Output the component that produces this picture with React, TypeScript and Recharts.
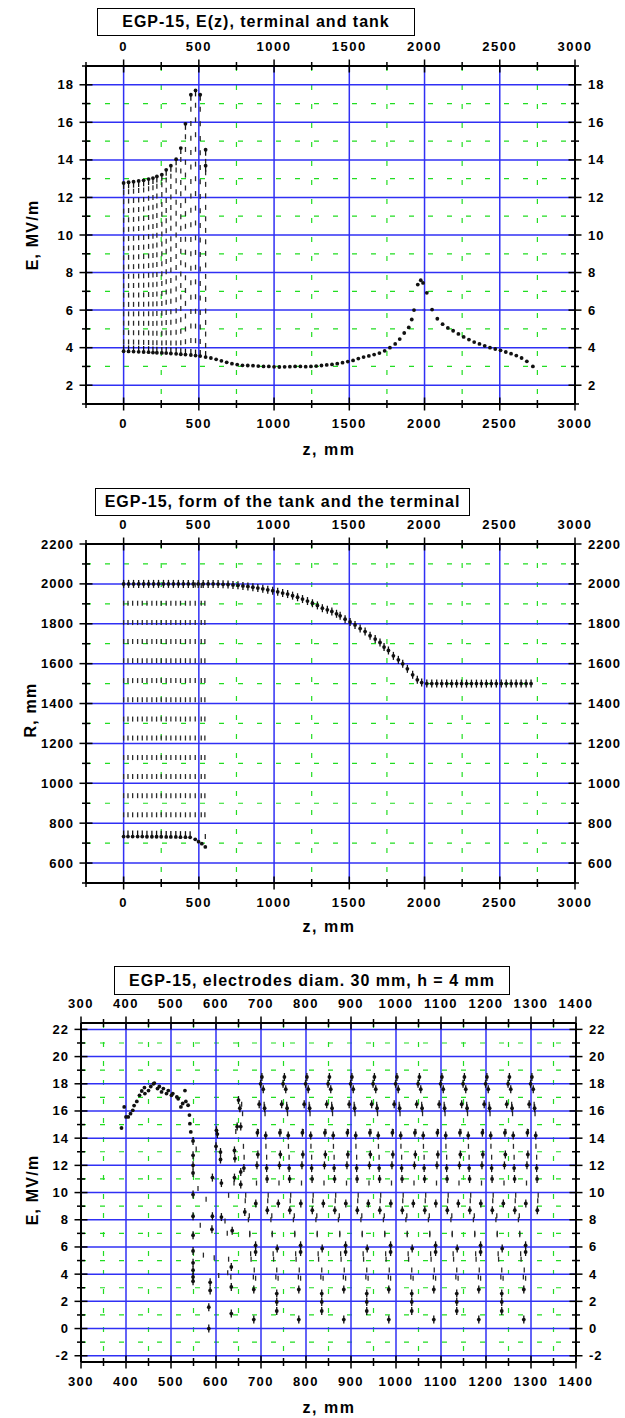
import React from 'react'
import { ScatterChart, Scatter, XAxis, YAxis, CartesianGrid } from 'recharts'

const FONT = '"Liberation Sans", Arial, Helvetica, sans-serif'
const BLUE = '#3030f4'
const GREEN = '#22dd22'
const INK = '#111'

type P = { z: number; e: number }
const pts = (zs: number[], es: number[]): P[] => zs.map((z, i) => ({ z, e: es[i] }))

// ---------- panel 1: E(z), terminal and tank ----------
const termZ1 = [0, 33, 66, 100, 133, 166, 195, 221, 254, 283, 314, 349, 380, 411, 447, 478, 509, 545]
const termTopE1 = [12.77, 12.81, 12.84, 12.88, 12.91, 12.98, 13.03, 13.12, 13.21, 13.47, 13.69, 14.04, 14.63, 15.92, 17.47, 17.7, 17.47, 14.54]
const termBotE1 = [3.81, 3.8, 3.79, 3.78, 3.77, 3.76, 3.74, 3.73, 3.72, 3.71, 3.69, 3.67, 3.65, 3.63, 3.61, 3.58, 3.55, 3.5]
const lineFrac1 = [0.056, 0.111, 0.167, 0.222, 0.278, 0.333, 0.389, 0.444, 0.5, 0.556, 0.611, 0.667, 0.722, 0.778, 0.833, 0.889, 0.944]
const tankZ1 = [580, 615, 650, 685, 720, 755, 790, 825, 860, 895, 930, 965, 1000, 1035, 1070, 1105, 1140, 1175, 1210, 1245, 1280, 1315, 1350, 1385, 1420, 1455, 1490, 1525, 1560, 1595, 1630, 1665, 1700, 1735, 1770, 1805, 1835, 1865, 1895, 1915, 1930, 1955, 1975, 1990, 2015, 2050, 2085, 2120, 2155, 2190, 2225, 2260, 2295, 2330, 2365, 2400, 2435, 2470, 2505, 2540, 2575, 2610, 2645, 2680, 2720]
const tankE1 = [3.45, 3.38, 3.3, 3.22, 3.15, 3.1, 3.06, 3.05, 3.04, 3.02, 3.0, 3.0, 2.98, 2.97, 2.98, 2.99, 3.0, 3.0, 2.99, 3.0, 3.02, 3.05, 3.08, 3.11, 3.15, 3.2, 3.26, 3.32, 3.42, 3.5, 3.56, 3.63, 3.71, 3.83, 4.0, 4.2, 4.46, 4.78, 5.08, 5.5, 6.0, 7.36, 7.59, 7.45, 6.92, 6.03, 5.54, 5.25, 5.05, 4.9, 4.73, 4.57, 4.43, 4.3, 4.2, 4.1, 4.0, 3.93, 3.86, 3.77, 3.68, 3.58, 3.45, 3.27, 3.0]
const xTicks12 = [-250, 0, 250, 500, 750, 1000, 1250, 1500, 1750, 2000, 2250, 2500, 2750, 3000]
const yTicks1 = [1, 2, 3, 4, 5, 6, 7, 8, 9, 10, 11, 12, 13, 14, 15, 16, 17, 18, 19]

// ---------- panel 2: form of the tank and the terminal ----------
const rimZ2 = [0, 33, 66, 100, 133, 166, 199, 232, 265, 298, 331, 364, 397, 430, 463, 496, 529, 562, 595, 628, 661, 694, 727, 760, 793, 826, 859, 892, 925, 958, 991, 1024, 1057, 1090, 1123, 1156, 1189, 1222, 1255, 1288, 1321, 1354, 1384, 1415, 1439, 1472, 1505, 1538, 1572, 1605, 1638, 1672, 1704, 1731, 1760, 1793, 1826, 1855, 1886, 1921, 1952, 1981, 2015, 2048, 2081, 2114, 2147, 2180, 2213, 2246, 2279, 2312, 2345, 2378, 2411, 2444, 2477, 2510, 2543, 2576, 2609, 2642, 2675, 2708]
const rimR2 = [2000, 2000, 2000, 2000, 2000, 2000, 2000, 2000, 2000, 2000, 2000, 2000, 2000, 2000, 2000, 2000, 2000, 2000, 2000, 1999, 1998, 1997, 1995, 1993, 1990, 1987, 1983, 1979, 1975, 1970, 1966, 1960, 1954, 1949, 1941, 1933, 1924, 1914, 1903, 1892, 1878, 1870, 1862, 1850, 1840, 1823, 1809, 1794, 1776, 1761, 1740, 1723, 1706, 1683, 1666, 1639, 1619, 1599, 1574, 1544, 1519, 1505, 1500, 1500, 1500, 1500, 1500, 1500, 1500, 1500, 1500, 1500, 1500, 1500, 1500, 1500, 1500, 1500, 1500, 1500, 1500, 1500, 1500, 1500]
const colZ2 = [0, 29, 60, 93, 124, 155, 188, 219, 250, 283, 314, 347, 378, 411, 442]
const edgeZ2 = [476, 516, 540]
const rowR2 = [1903, 1806, 1711, 1615, 1515, 1419, 1322, 1227, 1129, 1034, 938, 842]
const baseR2 = [733, 733, 733, 733, 733, 732, 732, 732, 732, 731, 731, 731, 730, 730, 729]
const noseZ2 = [476, 498, 520, 543]
const noseR2 = [719, 707, 697, 681]
const yTicks2 = [500, 600, 700, 800, 900, 1000, 1100, 1200, 1300, 1400, 1500, 1600, 1700, 1800, 1900, 2000, 2100, 2200]

// ---------- panel 3: electrodes diam. 30 mm, h = 4 mm ----------
const arcZ3 = [390, 396, 400, 405, 410, 415, 418, 424, 430, 435, 441, 442, 450, 455, 461, 463, 470, 474, 479, 483, 490, 494, 501, 504, 513, 516, 522, 526, 531, 533, 538, 541, 542, 544]
const arcE3 = [14.75, 16.3, 15.56, 15.56, 15.8, 16.05, 16.4, 16.7, 17.15, 17.47, 17.72, 17.28, 17.5, 17.8, 18.0, 18.05, 17.65, 17.8, 17.4, 17.65, 17.28, 17.5, 17.15, 17.28, 17.03, 16.9, 16.3, 16.55, 17.5, 16.7, 16.42, 15.7, 15.07, 14.46]
const earlyZ3 = [549, 549, 549, 549, 549, 549, 549, 549, 549, 549, 549, 549, 592, 592, 591, 587, 587, 584, 584, 601, 603, 600, 610, 610, 612, 612, 636, 634, 634, 634, 641, 641, 642, 650, 653, 647, 655, 655, 655, 662, 664]
const earlyE3 = [13.8, 12.74, 12.0, 11.44, 9.85, 8.26, 6.86, 5.71, 4.83, 4.29, 3.8, 3.48, 11.1, 8.26, 7.3, 3.4, 2.8, 1.57, 0.0, 14.58, 14.3, 13.4, 12.98, 12.43, 10.7, 8.2, 7.2, 4.53, 3.06, 1.1, 13.1, 11.1, 12.5, 16.8, 16.2, 14.85, 14.85, 11.52, 10.6, 11.8, 8.58]
const earlyDashZ3 = [556, 560, 565, 572, 578, 596, 606, 620, 626, 628]
const earlyDashE3 = [13.2, 10.3, 7.6, 5.4, 9.5, 5.2, 3.9, 7.9, 4.1, 9.8]
const upperCenters3 = [700, 750, 800, 850, 900, 950, 1000, 1050, 1100, 1150, 1200, 1250, 1300]
const upperDz3 = [-11.5, -9, -8, -7, -4, -1, 2, 5, 8, 10.5, 12.5, 13.5, 14]
const upperE3 = [9.2, 12.0, 14.4, 12.8, 16.5, 18.0, 18.5, 17.6, 16.2, 14.2, 11.8, 11.0, 8.7]
const lowACenters3 = [650, 750, 850, 950, 1050, 1150, 1250]
const lowADz3 = [34, 34, 38, 38]
const lowAE3 = [0.66, 2.87, 6.12, 5.63]
const lowBCenters3 = [700, 800, 900, 1000, 1100, 1200]
const lowBDz3 = [35, 35, 35, 36]
const lowBE3 = [1.29, 1.96, 2.57, 5.88]
const dashCenters3 = [650, 700, 750, 800, 850, 900, 950, 1000, 1050, 1100, 1150, 1200, 1250, 1300]
const dashDz3 = [7, 9, -6, 11, 12.5, -10, 15, 16, 22, 24, -25, 25, 27, -22, 35, -17, 38]
const dashE3 = [16.5, 15.8, 14.5, 13.4, 12.6, 10.7, 9.4, 9.8, 8.0, 8.3, 7.0, 6.9, 5.5, 5.1, 4.3, 3.8, 3.7]
const xTicks3 = [300, 350, 400, 450, 500, 550, 600, 650, 700, 750, 800, 850, 900, 950, 1000, 1050, 1100, 1150, 1200, 1250, 1300, 1350, 1400]
const yTicks3 = [-2, -1, 0, 1, 2, 3, 4, 5, 6, 7, 8, 9, 10, 11, 12, 13, 14, 15, 16, 17, 18, 19, 20, 21, 22]

const around = (centers: number[], dz: number[], es: number[]): P[] =>
  centers.flatMap(c => dz.map((d, i) => ({ z: c + d, e: es[i] })))

const panel1 = [
  { kind: 'dash', data: lineFrac1.flatMap(f => termZ1.map((z, i) => ({ z, e: termBotE1[i] + f * (termTopE1[i] - termBotE1[i]) }))) },
  { kind: 'pinDown', data: [...pts(termZ1, termTopE1), { z: 545, e: 13.69 }] },
  { kind: 'pinUp', data: pts(termZ1, termBotE1) },
  { kind: 'dot', data: pts(tankZ1, tankE1) },
]

const panel2 = [
  { kind: 'dash', data: rowR2.flatMap(r => [...colZ2, ...edgeZ2].map(z => ({ z, e: r }))) },
  { kind: 'dash', data: [{ z: 543, e: 733 }, { z: 476, e: 1995 }, { z: 516, e: 1992 }] },
  { kind: 'cross', data: pts(rimZ2, rimR2) },
  { kind: 'pinUp', data: pts(colZ2, baseR2) },
  { kind: 'dot', data: pts(noseZ2, noseR2) },
]

const inPlate = (p: P) => p.z > 555 && p.z < 1318
const panel3 = [
  { kind: 'dash', data: [...pts(earlyDashZ3, earlyDashE3), ...around(dashCenters3, dashDz3, dashE3).filter(inPlate)] },
  { kind: 'dot', data: pts(arcZ3, arcE3) },
  { kind: 'cross', data: pts(earlyZ3, earlyE3) },
  { kind: 'cross', data: around(upperCenters3, upperDz3, upperE3).filter(inPlate) },
  { kind: 'cross', data: [...around(lowACenters3, lowADz3, lowAE3), ...around(lowBCenters3, lowBDz3, lowBE3)].filter(inPlate) },
]

function mark(kind: string) {
  return (p: any) => {
    const { cx, cy } = p
    if (typeof cx !== 'number' || typeof cy !== 'number') return <g />
    if (kind === 'dash') return <line x1={cx} x2={cx} y1={cy - 2.5} y2={cy + 2.5} stroke="#2a2a2a" strokeWidth={1.3} />
    if (kind === 'dot') return <circle cx={cx} cy={cy} r={1.9} fill={INK} />
    const [a, b] = kind === 'pinDown' ? [0, 6] : kind === 'pinUp' ? [-6, 0] : [-4, 4]
    return (
      <g>
        <line x1={cx} x2={cx} y1={cy + a} y2={cy + b} stroke={INK} strokeWidth={1.3} />
        <circle cx={cx} cy={cy} r={1.9} fill={INK} />
      </g>
    )
  }
}

const tickFont = { fontFamily: FONT, fontWeight: 700, fontSize: 13, letterSpacing: 1.5 }
const sideFont = { ...tickFont, letterSpacing: 1 }

function makeTick(side: string, isMajor: (v: number) => boolean) {
  return (props: any) => {
    const { x, y, payload } = props
    const v = payload.value
    const major = isMajor(v)
    const len = major ? 6.5 : 4
    const horiz = side === 'top' || side === 'bottom'
    const line = horiz
      ? <line x1={x} x2={x} y1={y - len} y2={y + len} stroke="#000" strokeWidth={1.5} />
      : <line x1={x - len} x2={x + len} y1={y} y2={y} stroke="#000" strokeWidth={1.5} />
    let label = null
    if (major) {
      if (side === 'bottom') label = <text x={x} y={y + 24} textAnchor="middle" style={tickFont}>{v}</text>
      if (side === 'top') label = <text x={x} y={y - 15} textAnchor="middle" style={tickFont}>{v}</text>
      if (side === 'left') label = <text x={x - 12} y={y + 4.5} textAnchor="end" style={sideFont}>{v}</text>
      if (side === 'right') label = <text x={x + 13} y={y + 4.5} textAnchor="start" style={sideFont}>{v}</text>
    }
    return <g>{line}{label}</g>
  }
}

type PanelProps = {
  plotLeft: number; plotRight: number; plotTop: number; plotBottom: number
  xDomain: [number, number]; yDomain: [number, number]
  xTicks: number[]; yTicks: number[]
  xMajor: (v: number) => boolean; yMajor: (v: number) => boolean
  series: { kind: string; data: P[] }[]
}

function Panel(p: PanelProps) {
  const top = p.plotTop - 40
  const height = p.plotBottom + 40 - top
  const minorX = p.xTicks.filter(v => !p.xMajor(v))
  const majorX = p.xTicks.filter(p.xMajor)
  const minorY = p.yTicks.filter(v => !p.yMajor(v))
  const majorY = p.yTicks.filter(p.yMajor)
  const axisLine = { stroke: '#000', strokeWidth: 2 }
  const common = { tickLine: false, tickSize: 0, tickMargin: 0, interval: 0 as const, allowDataOverflow: true, axisLine, type: 'number' as const }
  return (
    <div style={{ position: 'absolute', left: 0, top }}>
      <ScatterChart width={625} height={height} margin={{ top: 10, bottom: 10, left: p.plotLeft - 40, right: 625 - p.plotRight - 40 }}>
        <CartesianGrid xAxisId="b" yAxisId="l" horizontalValues={minorY} verticalValues={minorX} stroke={GREEN} strokeWidth={1.2} strokeDasharray="5 14" />
        <CartesianGrid xAxisId="b" yAxisId="l" horizontalValues={majorY} verticalValues={majorX} stroke={BLUE} strokeWidth={1.5} />
        <XAxis xAxisId="b" dataKey="z" orientation="bottom" height={30} domain={p.xDomain} ticks={p.xTicks} tick={makeTick('bottom', p.xMajor)} {...common} />
        <XAxis xAxisId="t" dataKey="z" orientation="top" height={30} domain={p.xDomain} ticks={p.xTicks} tick={makeTick('top', p.xMajor)} {...common} />
        <YAxis yAxisId="l" dataKey="e" orientation="left" width={40} domain={p.yDomain} ticks={p.yTicks} tick={makeTick('left', p.yMajor)} {...common} />
        <YAxis yAxisId="r" dataKey="e" orientation="right" width={40} domain={p.yDomain} ticks={p.yTicks} tick={makeTick('right', p.yMajor)} {...common} />
        {p.series.map((s, i) => (
          <Scatter key={i} xAxisId="b" yAxisId="l" data={s.data} shape={mark(s.kind)} isAnimationActive={false} />
        ))}
      </ScatterChart>
    </div>
  )
}

const boxStyle = (left: number, top: number, width: number, height: number): React.CSSProperties => ({
  position: 'absolute', left, top, width, height, boxSizing: 'border-box', border: '1px solid #000', background: '#fff',
  display: 'flex', alignItems: 'center', justifyContent: 'center',
  fontFamily: FONT, fontWeight: 700, fontSize: 16, letterSpacing: 1, whiteSpace: 'nowrap',
})

const labelStyle = (cx: number, cy: number, rotate: boolean): React.CSSProperties => ({
  position: 'absolute', left: cx, top: cy, transform: `translate(-50%, -50%)${rotate ? ' rotate(-90deg)' : ''}`,
  fontFamily: FONT, fontWeight: 700, fontSize: 16, letterSpacing: rotate ? 1.2 : 1.5, whiteSpace: 'nowrap',
})

export default function App() {
  return (
    <div style={{ position: 'absolute', left: 0, top: 0, width: 625, height: 1418, background: '#fff', overflow: 'hidden' }}>
      <Panel plotLeft={86} plotRight={575} plotTop={66} plotBottom={404}
        xDomain={[-250, 3000]} yDomain={[1, 19]} xTicks={xTicks12} yTicks={yTicks1}
        xMajor={v => v % 500 === 0} yMajor={v => v % 2 === 0} series={panel1} />
      <Panel plotLeft={86} plotRight={575} plotTop={544} plotBottom={883}
        xDomain={[-250, 3000]} yDomain={[500, 2200]} xTicks={xTicks12} yTicks={yTicks2}
        xMajor={v => v % 500 === 0} yMajor={v => v % 200 === 0} series={panel2} />
      <Panel plotLeft={81} plotRight={576} plotTop={1023} plotBottom={1362}
        xDomain={[300, 1400]} yDomain={[-2.46, 22.47]} xTicks={xTicks3} yTicks={yTicks3}
        xMajor={v => v % 100 === 0} yMajor={v => v % 2 === 0} series={panel3} />

      <div style={boxStyle(97, 8, 318, 28)}>EGP-15, E(z), terminal and tank</div>
      <div style={boxStyle(95, 488, 375, 28)}>EGP-15, form of the tank and the terminal</div>
      <div style={boxStyle(114, 966, 396, 29)}>EGP-15, electrodes diam. 30 mm, h = 4 mm</div>

      <div style={labelStyle(329, 450, false)}>z, mm</div>
      <div style={labelStyle(329, 927, false)}>z, mm</div>
      <div style={labelStyle(329, 1408, false)}>z, mm</div>
      <div style={labelStyle(33, 235, true)}>E, MV/m</div>
      <div style={labelStyle(31, 710, true)}>R, mm</div>
      <div style={labelStyle(33, 1190, true)}>E, MV/m</div>
    </div>
  )
}
